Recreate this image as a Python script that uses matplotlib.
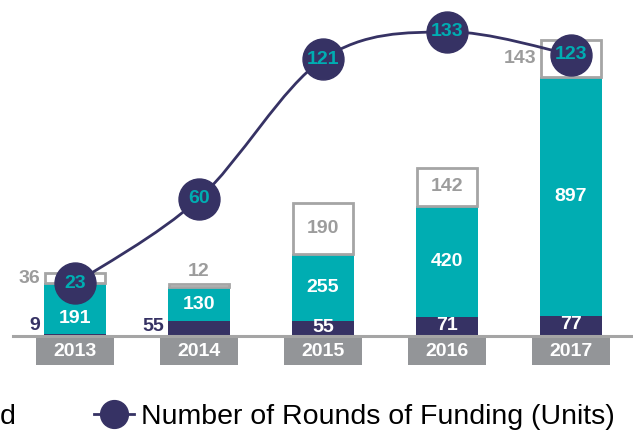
"""Stacked funding bars with rounds-of-funding line."""
import numpy as np
import matplotlib
matplotlib.use('Agg')
import matplotlib.pyplot as plt
from matplotlib.patches import Rectangle, PathPatch
from matplotlib.path import Path
from matplotlib.lines import Line2D

plt.rcParams['font.family'] = ['Liberation Sans Narrow', 'Liberation Sans', 'DejaVu Sans']

years = ['2013', '2014', '2015', '2016', '2017']
bottom_vals = [9, 55, 55, 71, 77]
middle_vals = [191, 130, 255, 420, 897]
top_vals = [36, 12, 190, 142, 143]
rounds = [23, 60, 121, 133, 123]

NAVY = '#363264'
TEAL = '#00ADB2'
GRAY = '#A5A5A5'
TXTGRAY = '#9C9C9C'
BOXGRAY = '#939598'

fig = plt.figure(figsize=(6.33, 4.3), dpi=100)
ax = fig.add_axes([13 / 633, 94 / 430, 1 - 13 / 633, 336 / 430])
ax2 = ax.twinx()

x = np.arange(len(years))
w = 0.5
b = np.array(bottom_vals)
m = np.array(middle_vals)
t = np.array(top_vals)

ax.bar(x, b, w, color=NAVY, zorder=2)
ax.bar(x, m, w, bottom=b, color=TEAL, zorder=2)
ax.bar(x, t, w - 0.015, bottom=b + m, facecolor='white', edgecolor=GRAY,
       linewidth=2, zorder=2)

ax.set_xlim(-0.5, 4.5)
ax.set_ylim(0, 1266)
ax2.set_ylim(0, 146.9)
for a in (ax, ax2):
    a.axis('off')

# baseline
ax.axhline(0, color=GRAY, linewidth=2.2, zorder=3, clip_on=False)

# year boxes under the axis
xt = ax.get_xaxis_transform()
for i, yr in enumerate(years):
    ax.add_patch(Rectangle((i - 0.315, -29 / 336), 0.63, 28 / 336, transform=xt,
                           facecolor=BOXGRAY, edgecolor='none', clip_on=False))
    ax.text(i, -15 / 336, yr, transform=xt, ha='center', va='center',
            color='white', fontsize=14, fontweight='bold')

px = 1266 / 336  # data units per pixel on primary axis
lab = dict(fontsize=14, fontweight='bold')

# bottom segment labels
for i in range(len(years)):
    if b[i] < 30:
        ax.text(i - w / 2 - 0.03, b[i] / 2 + 9 * px, str(b[i]), ha='right', va='center',
                color=NAVY, **lab)
    elif i == 1:
        ax.text(i - w / 2 - 0.03, b[i] / 2 + 2 * px, str(b[i]), ha='right', va='center',
                color=NAVY, **lab)
    else:
        ax.text(i, b[i] / 2 + 1 * px, str(b[i]), ha='center', va='center',
                color='white', **lab)

# middle segment labels
for i in range(len(years)):
    dy = -10 * px if i == 0 else 0
    ax.text(i, b[i] + m[i] / 2 + dy, str(m[i]), ha='center', va='center',
            color='white', **lab)

# top segment labels
for i in range(len(years)):
    yc = b[i] + m[i] + t[i] / 2
    if i in (0, 4):
        ax.text(i - w / 2 - 0.03, yc, str(t[i]), ha='right', va='center', color=TXTGRAY, **lab)
    elif i == 1:
        ax.text(i, b[i] + m[i] + t[i] + 12 * px, str(t[i]), ha='center', va='center',
                color=TXTGRAY, **lab)
    else:
        ax.text(i, yc, str(t[i]), ha='center', va='center', color=TXTGRAY, **lab)

# smoothed line (Catmull-Rom as cubic Bezier)
pts = np.column_stack([x, rounds]).astype(float)
verts = [pts[0]]
codes = [Path.MOVETO]
n = len(pts)
for i in range(n - 1):
    p0 = pts[max(i - 1, 0)]
    p1 = pts[i]
    p2 = pts[i + 1]
    p3 = pts[min(i + 2, n - 1)]
    c1 = p1 + (p2 - p0) / 6
    c2 = p2 - (p3 - p1) / 6
    verts += [c1, c2, p2]
    codes += [Path.CURVE4] * 3
ax2.add_patch(PathPatch(Path(verts, codes), facecolor='none', edgecolor=NAVY,
                        linewidth=2, zorder=4))
ax2.plot(x, rounds, linestyle='none', marker='o', markersize=29.5, color=NAVY, zorder=5)
for i, r in enumerate(rounds):
    ax2.text(i, r, str(r), ha='center', va='center', color=TEAL, zorder=6, **lab)

# legend (partially cropped in the original)
fig.text(0.0, 13 / 430, 'd', ha='left', va='center', fontsize=20.5)
h = Line2D([], [], color=NAVY, linewidth=2, marker='o', markersize=20)
fig.legend([h], ['Number of Rounds of Funding (Units)'], loc='center left',
           bbox_to_anchor=(80 / 633, 13 / 430), frameon=False, fontsize=20.5,
           handlelength=1.4, handletextpad=0.25, borderpad=0)

fig.savefig('out.png', dpi=100)
